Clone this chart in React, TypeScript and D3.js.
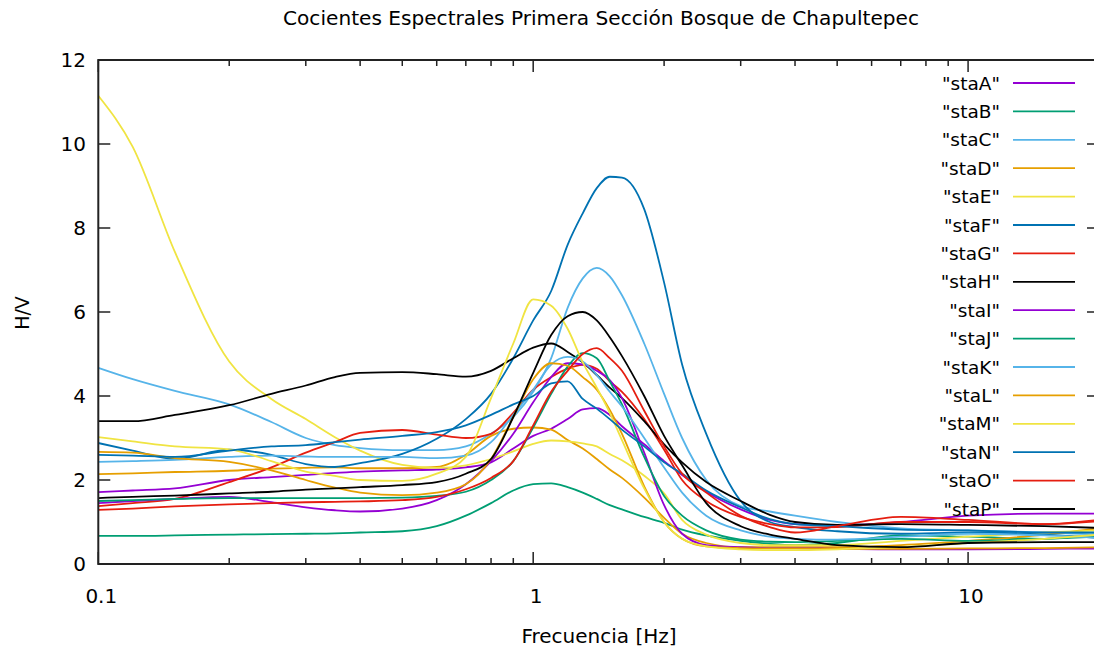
import * as d3 from "d3";

// frequency grid (Hz) shared by all stations
const freqs = [0.1, 0.12, 0.15, 0.2, 0.25, 0.3, 0.35, 0.4, 0.5, 0.6, 0.7, 0.8, 0.9, 1.0, 1.1, 1.2, 1.3, 1.4, 1.5, 1.6, 1.8, 2.0, 2.2, 2.5, 3.0, 3.5, 4, 5, 7, 10, 15, 20];

const staA = [1.71, 1.75, 1.8, 2.0, 2.07, 2.12, 2.17, 2.2, 2.23, 2.25, 2.3, 2.42, 2.75, 3.05, 3.22, 3.45, 3.68, 3.71, 3.55, 3.28, 2.85, 2.45, 2.12, 1.72, 1.3, 1.05, 0.95, 0.92, 1.0, 1.15, 1.2, 1.2];
const staB = [0.67, 0.67, 0.68, 0.7, 0.71, 0.72, 0.73, 0.75, 0.78, 0.9, 1.15, 1.45, 1.75, 1.9, 1.92, 1.83, 1.7, 1.55, 1.4, 1.3, 1.12, 0.98, 0.82, 0.68, 0.55, 0.48, 0.45, 0.5, 0.68, 0.65, 0.6, 0.72];
const staC = [4.67, 4.4, 4.12, 3.8, 3.38, 3.0, 2.83, 2.76, 2.71, 2.71, 2.8, 3.1, 3.5, 4.1, 4.9, 6.1, 6.8, 7.05, 6.85, 6.4, 5.25, 4.05, 3.0, 2.0, 1.38, 1.25, 1.15, 1.0, 0.85, 0.8, 0.75, 0.7];
const staD = [2.14, 2.16, 2.19, 2.22, 2.27, 2.29, 2.3, 2.28, 2.28, 2.31, 2.6, 3.05, 3.22, 3.25, 3.2, 2.95, 2.75, 2.5, 2.25, 2.05, 1.58, 1.1, 0.72, 0.5, 0.4, 0.4, 0.4, 0.4, 0.45, 0.55, 0.7, 0.85];
const staE = [11.15, 9.93, 7.43, 4.82, 3.93, 3.45, 3.02, 2.7, 2.36, 2.29, 2.35, 2.5, 2.68, 2.86, 2.94, 2.92, 2.87, 2.8, 2.62, 2.47, 2.1, 1.68, 1.05, 0.7, 0.5, 0.45, 0.45, 0.45, 0.55, 0.65, 0.75, 0.8];
const staF = [2.88, 2.7, 2.5, 2.72, 2.6, 2.38, 2.31, 2.4, 2.62, 2.98, 3.45, 4.05, 4.9, 5.8, 6.5, 7.6, 8.35, 8.95, 9.22, 9.2, 8.45, 6.7, 4.75, 3.1, 1.5, 1.0, 0.88, 0.78, 0.72, 0.75, 0.7, 0.62];
const staG = [1.38, 1.45, 1.55, 1.95, 2.3, 2.65, 2.9, 3.12, 3.19, 3.08, 3.0, 3.1, 3.6, 4.15, 4.45, 4.65, 4.74, 4.65, 4.35, 4.1, 3.45, 2.72, 2.0, 1.5, 1.12, 0.95, 0.87, 0.88, 1.0, 1.0, 0.95, 1.05];
const staH = [3.4, 3.4, 3.55, 3.78, 4.05, 4.25, 4.45, 4.55, 4.57, 4.52, 4.46, 4.6, 4.9, 5.15, 5.25, 5.05, 4.8, 4.5, 4.2, 3.95, 3.4, 2.85, 2.42, 1.95, 1.5, 1.17, 1.0, 0.93, 0.95, 0.93, 0.9, 0.86];
const staI = [1.45, 1.5, 1.55, 1.6, 1.47, 1.35, 1.28, 1.25, 1.32, 1.52, 1.9, 2.45, 3.1, 3.85, 4.45, 4.78, 4.75, 4.6, 4.38, 3.95, 2.65, 1.4, 0.72, 0.45, 0.4, 0.38, 0.38, 0.36, 0.35, 0.35, 0.36, 0.37];
const staJ = [1.5, 1.52, 1.55, 1.57, 1.57, 1.57, 1.57, 1.57, 1.58, 1.62, 1.72, 2.0, 2.45, 3.25, 4.05, 4.7, 5.02, 4.9, 4.35, 3.8, 2.55, 1.62, 1.15, 0.8, 0.58, 0.53, 0.52, 0.55, 0.6, 0.55, 0.6, 0.65];
const staK = [2.43, 2.45, 2.48, 2.55, 2.58, 2.56, 2.55, 2.55, 2.55, 2.52, 2.58, 2.9, 3.55, 4.15, 4.75, 4.93, 4.82, 4.5, 4.1, 3.75, 3.0, 2.3, 1.7, 1.15, 0.8, 0.65, 0.6, 0.58, 0.65, 0.72, 0.68, 0.62];
const staL = [2.67, 2.65, 2.52, 2.43, 2.23, 2.0, 1.82, 1.7, 1.64, 1.7, 1.9, 2.5, 3.5, 4.4, 4.78, 4.72, 4.45, 4.15, 3.67, 3.1, 1.85, 1.0, 0.6, 0.42, 0.38, 0.37, 0.37, 0.36, 0.36, 0.37, 0.38, 0.4];
const staM = [3.02, 2.92, 2.8, 2.73, 2.45, 2.2, 2.1, 2.0, 1.98, 2.15, 2.55, 3.95, 5.25, 6.3, 6.15, 5.6, 4.8, 4.2, 3.6, 2.95, 1.8, 1.0, 0.6, 0.42, 0.35, 0.33, 0.33, 0.35, 0.4, 0.5, 0.6, 0.7];
const staN = [2.6, 2.58, 2.55, 2.7, 2.8, 2.83, 2.9, 2.96, 3.05, 3.14, 3.3, 3.55, 3.8, 4.0, 4.3, 4.35, 3.93, 3.7, 3.45, 3.2, 2.8, 2.42, 2.15, 1.75, 1.35, 1.07, 0.95, 0.9, 0.82, 0.8, 0.75, 0.75];
const staO = [1.29, 1.32, 1.37, 1.42, 1.45, 1.47, 1.48, 1.49, 1.52, 1.6, 1.78, 2.05, 2.45, 3.3, 4.1, 4.6, 5.0, 5.14, 4.9, 4.6, 3.65, 2.8, 2.15, 1.7, 1.15, 0.88, 0.75, 0.9, 1.12, 1.05, 0.95, 1.02];
const staP = [1.57, 1.6, 1.63, 1.68, 1.72, 1.77, 1.8, 1.83, 1.88, 1.95, 2.15, 2.5, 3.5, 4.55, 5.45, 5.9, 6.0, 5.8, 5.4, 4.95, 4.0, 3.05, 2.35, 1.45, 0.9, 0.7, 0.6, 0.45, 0.4, 0.5, 0.52, 0.52];

const names = ["staA", "staB", "staC", "staD", "staE", "staF", "staG", "staH", "staI", "staJ", "staK", "staL", "staM", "staN", "staO", "staP"];
const seriesValues = [staA, staB, staC, staD, staE, staF, staG, staH, staI, staJ, staK, staL, staM, staN, staO, staP];
// gnuplot default line colours, cycling after 8
const palette = ["#9400d3", "#009e73", "#56b4e9", "#e69f00", "#f0e442", "#0072b2", "#e51e10", "#000000"];

const yTicks = [0, 2, 4, 6, 8, 10, 12];
const xMajor = [0.1, 1, 10];
const xMinor = [0.2, 0.3, 0.4, 0.5, 0.6, 0.7, 0.8, 0.9, 2, 3, 4, 5, 6, 7, 8, 9, 20];

const W = 1094;
const H = 653;
const left = 98.3;
const right = 1099;
const top = 60;
const bottom = 564;
const font = "'DejaVu Sans', sans-serif";

export default function App() {
  const x = d3.scaleLog().domain([0.1, 20]).range([left, right]);
  const y = d3.scaleLinear().domain([0, 12]).range([bottom, top]);

  const line = d3.line<number>()
    .x((_, i) => x(freqs[i]))
    .y((d) => y(d))
    .curve(d3.curveMonotoneX);

  const axisColor = "#222";

  return (
    <svg width={W} height={H} style={{ position: "absolute", left: 0, top: 0, background: "#fff" }}>
      <defs>
        <clipPath id="plot">
          <rect x={left} y={top} width={right - left} height={bottom - top} />
        </clipPath>
      </defs>

      <text x={601} y={25} fontFamily={font} fontSize={19} textAnchor="middle" textLength={636} lengthAdjust="spacingAndGlyphs" fill="#000">
        Cocientes Espectrales Primera Sección Bosque de Chapultepec
      </text>

      {/* curves */}
      <g clipPath="url(#plot)">
        {seriesValues.map((vals, i) => (
          <path key={names[i]} d={line(vals) ?? ""} fill="none" stroke={palette[i % 8]} strokeWidth={1.8} strokeLinejoin="round" />
        ))}
      </g>

      {/* y ticks */}
      {yTicks.map((t) => (
        <g key={"y" + t}>
          <line x1={left} x2={left + 12} y1={y(t)} y2={y(t)} stroke={axisColor} strokeWidth={1.5} />
          <line x1={right - 12} x2={right} y1={y(t)} y2={y(t)} stroke={axisColor} strokeWidth={1.5} />
          <text x={86} y={y(t)} dy="0.36em" fontFamily={font} fontSize={20} textAnchor="end" fill="#000">{t}</text>
        </g>
      ))}

      {/* x ticks */}
      {xMajor.map((t) => (
        <g key={"x" + t}>
          <line x1={x(t)} x2={x(t)} y1={bottom} y2={bottom - 12} stroke={axisColor} strokeWidth={1.5} />
          <line x1={x(t)} x2={x(t)} y1={top} y2={top + 12} stroke={axisColor} strokeWidth={1.5} />
          <text x={x(t) + 3} y={603} fontFamily={font} fontSize={20} textAnchor="middle" fill="#000">{t}</text>
        </g>
      ))}
      {xMinor.map((t) => (
        <g key={"xm" + t}>
          <line x1={x(t)} x2={x(t)} y1={bottom} y2={bottom - 6} stroke={axisColor} strokeWidth={1.5} />
          <line x1={x(t)} x2={x(t)} y1={top} y2={top + 6} stroke={axisColor} strokeWidth={1.5} />
        </g>
      ))}

      {/* frame */}
      <rect x={left} y={top} width={right - left} height={bottom - top} fill="none" stroke={axisColor} strokeWidth={2} />

      {/* legend */}
      {names.map((n, i) => {
        const ly = 83 + i * 28.4;
        return (
          <g key={"lg" + n}>
            <text x={1000} y={ly} dy="0.36em" fontFamily={font} fontSize={18.5} textAnchor="end" fill="#000">{`"${n}"`}</text>
            <line x1={1013} x2={1075} y1={ly} y2={ly} stroke={palette[i % 8]} strokeWidth={1.8} />
          </g>
        );
      })}

      <text transform={`translate(29,313) rotate(-90)`} fontFamily={font} fontSize={19} textAnchor="middle" fill="#000">H/V</text>
      <text x={599} y={643} fontFamily={font} fontSize={20} textAnchor="middle" fill="#000">Frecuencia [Hz]</text>
    </svg>
  );
}
